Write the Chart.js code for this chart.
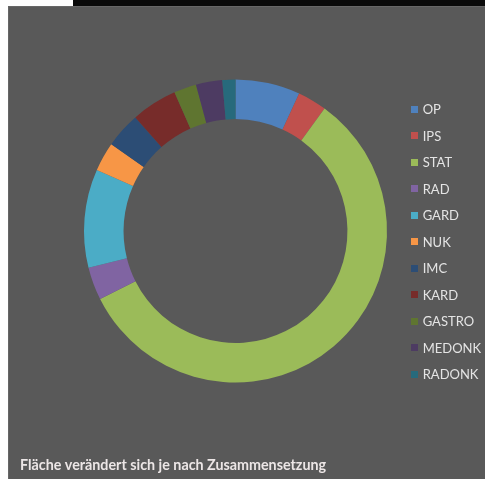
<!DOCTYPE html>
<html lang="de">
<head>
<meta charset="utf-8">
<title>Fläche</title>
<script src="https://cdn.jsdelivr.net/npm/chart.js@4/dist/chart.umd.min.js"></script>
<style>
  html, body {
    margin: 0;
    padding: 0;
    background: #ffffff;
    width: 485px;
    height: 479px;
    overflow: hidden;
  }
  .topbar {
    position: absolute;
    left: 73px;
    top: 0;
    width: 412px;
    height: 6px;
    background: #0a0a0a;
  }
  .panel {
    position: absolute;
    left: 8px;
    top: 6px;
    width: 477px;
    height: 473px;
    background: #595959;
    box-shadow: inset 1px 1px 0 #676767;
  }
  .panel canvas {
    position: absolute;
    left: 0;
    top: 0;
  }
  #legend {
    position: absolute;
    left: 402.7px;
    top: 96.5px;
    margin: 0;
    padding: 0;
    list-style: none;
    font-family: Lato, "Noto Sans", sans-serif;
    font-size: 13px;
    color: #e4e4e4;
  }
  #legend li {
    display: flex;
    align-items: center;
    height: 13px;
    margin-bottom: 13.5px;
    white-space: nowrap;
  }
  #legend .swatch {
    display: inline-block;
    width: 7px;
    height: 7px;
    margin-right: 5px;
  }
</style>
</head>
<body>
<div class="topbar"></div>
<div class="panel">
  <canvas id="areaChart" width="477" height="473"></canvas>
  <ul id="legend"></ul>
</div>
<script>
  // Stationen und ihr Anteil an der Fläche (Prozent)
  const stations = ["OP", "IPS", "STAT", "RAD", "GARD", "NUK", "IMC", "KARD", "GASTRO", "MEDONK", "RADONK"];
  const shares = [6.9, 3.1, 57.6, 3.5, 10.5, 3.1, 3.8, 4.9, 2.4, 2.8, 1.4];
  const footerText = "Fläche verändert sich je nach Zusammensetzung";

  const palette = [
    "#4f81bd", "#c0504d", "#9bbb59", "#8064a2", "#4bacc6", "#f79646",
    "#2c4d75", "#772c2a", "#5f7530", "#4d3b62", "#276a7c",
  ];

  const ctx = document.getElementById("areaChart").getContext("2d");
  const chart = new Chart(ctx, {
    type: "doughnut",
    data: {
      labels: stations,
      datasets: [
        {
          data: shares,
          backgroundColor: palette,
          borderWidth: 0,
          clip: false,
        },
      ],
    },
    options: {
      responsive: false,
      animation: false,
      radius: 151.5,
      // Ringbreite: Innenradius etwa 74 % des Außenradius
      cutout: "73.9%",
      layout: { padding: { left: 12, right: 34, top: 0, bottom: 0 } },
      plugins: {
        legend: { display: false },
        tooltip: { enabled: false },
        title: {
          display: true,
          text: footerText,
          position: "bottom",
          align: "start",
          color: "#ece6e6",
          font: { family: "Lato, 'Noto Sans', sans-serif", size: 14.3, weight: "bold", lineHeight: 1.2 },
          padding: { top: 0.9, bottom: 4.9 },
        },
      },
    },
  });

  // Legende als Liste neben dem Ring
  const legendEl = document.getElementById("legend");
  const items = chart.options.plugins.legend.labels.generateLabels(chart);
  items.forEach((item) => {
    const li = document.createElement("li");
    const swatch = document.createElement("span");
    swatch.className = "swatch";
    swatch.style.background = item.fillStyle;
    li.appendChild(swatch);
    li.appendChild(document.createTextNode(item.text));
    legendEl.appendChild(li);
  });
</script>
</body>
</html>
